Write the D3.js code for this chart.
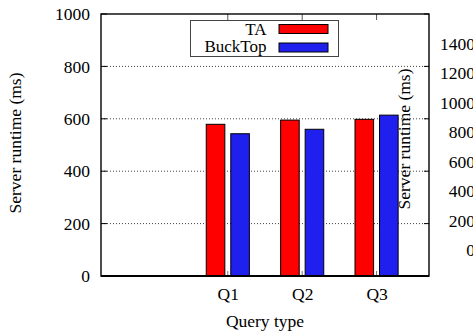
<!DOCTYPE html>
<html>
<head>
<meta charset="utf-8">
<script src="https://cdn.jsdelivr.net/npm/d3@7"></script>
<style>
  body { margin: 0; background: #fff; }
  text { font-family: "Liberation Serif", "Times New Roman", serif; fill: #000; }
</style>
</head>
<body>
<div id="chart"></div>
<script>
// data
var categories = ["Q1", "Q2", "Q3"];
var seriesNames = ["TA", "BuckTop"];
var taValues = [579, 595, 598];
var buckTopValues = [543, 560, 614];
var yTicks = [0, 200, 400, 600, 800, 1000];
var y2Ticks = [0, 200, 400, 600, 800, 1000, 1200, 1400];
var colors = ["#ff0000", "#2020ee"];

var W = 473, H = 336;
var margin = { top: 14, right: 44, bottom: 60, left: 101 },
    width = W - margin.left - margin.right,
    height = H - margin.top - margin.bottom;

var svg = d3.select("#chart")
    .append("svg")
    .attr("width", W)
    .attr("height", H);

var g = svg.append("g")
    .attr("transform", "translate(" + margin.left + "," + margin.top + ")");

// x: clusters at 1..3, empty slot at 0
var x = d3.scaleLinear()
    .domain([-0.705, 3.705])
    .range([0, width]);

var y = d3.scaleLinear()
    .domain([0, 1000])
    .range([height, 0]);

// second (right) scale, overlapping as in the original figure
var y2 = d3.scaleLinear()
    .domain([0, 1400])
    .range([250 - margin.top, 43.5 - margin.top]);

// grid lines
g.selectAll(".grid")
    .data(yTicks.filter(function (d) { return d > 0 && d < 1000; }))
    .enter()
    .append("line")
    .attr("x1", 0)
    .attr("x2", width)
    .attr("y1", function (d) { return y(d); })
    .attr("y2", function (d) { return y(d); })
    .attr("stroke", "#444")
    .attr("stroke-width", 1)
    .attr("stroke-dasharray", "1,2");

// bars
var barW = 0.25;
var offsets = [-0.29, 0.04];
var series = [taValues, buckTopValues];

series.forEach(function (vals, s) {
    g.selectAll(".bar" + s)
        .data(vals)
        .enter()
        .append("rect")
        .attr("x", function (d, i) { return x(i + 1 + offsets[s]); })
        .attr("width", x(barW) - x(0))
        .attr("y", function (d) { return y(d); })
        .attr("height", function (d) { return height - y(d); })
        .attr("fill", colors[s])
        .attr("stroke", "#000")
        .attr("stroke-width", 1);
});

// left axis labels
var yAxis = g.append("g")
    .call(d3.axisLeft(y).tickValues(yTicks).tickFormat(d3.format("d")).tickSize(0).tickPadding(11));
yAxis.select(".domain").remove();
yAxis.selectAll("text").style("font-size", "17.5px");

// inward tick marks on left and right
g.selectAll(".ltick")
    .data(yTicks)
    .enter()
    .append("line")
    .attr("x1", 0).attr("x2", 6)
    .attr("y1", function (d) { return y(d); })
    .attr("y2", function (d) { return y(d); })
    .attr("stroke", "#000");
g.selectAll(".rtick")
    .data(yTicks)
    .enter()
    .append("line")
    .attr("x1", width - 5).attr("x2", width)
    .attr("y1", function (d) { return y(d); })
    .attr("y2", function (d) { return y(d); })
    .attr("stroke", "#000");

// x axis labels
var xAxis = g.append("g")
    .attr("transform", "translate(0," + height + ")")
    .call(d3.axisBottom(x)
        .tickValues([1, 2, 3])
        .tickFormat(function (d) { return categories[d - 1]; })
        .tickSize(0)
        .tickPadding(12));
xAxis.select(".domain").remove();
xAxis.selectAll("text").style("font-size", "17.5px");

// x tick marks: top and bottom, inward
[1, 2, 3].forEach(function (d) {
    g.append("line")
        .attr("x1", x(d)).attr("x2", x(d))
        .attr("y1", 0).attr("y2", 6)
        .attr("stroke", "#555");
    g.append("line")
        .attr("x1", x(d)).attr("x2", x(d))
        .attr("y1", height).attr("y2", height - 5)
        .attr("stroke", "#777");
});

// frame
g.append("rect")
    .attr("x", 0).attr("y", 0)
    .attr("width", width).attr("height", height)
    .attr("fill", "none")
    .attr("stroke", "#000")
    .attr("stroke-width", 1.4);
g.append("line")
    .attr("x1", 0).attr("x2", width)
    .attr("y1", height).attr("y2", height)
    .attr("stroke", "#000")
    .attr("stroke-width", 2);

// right axis labels (no line), clipped by the page edge like the original
var y2Axis = g.append("g")
    .attr("transform", "translate(" + (475 - margin.left) + ",0)")
    .call(d3.axisLeft(y2).tickValues(y2Ticks).tickFormat(d3.format("d")).tickSize(0).tickPadding(0));
y2Axis.select(".domain").remove();
y2Axis.selectAll("text").style("font-size", "17.5px");

// axis titles
svg.append("text")
    .attr("transform", "translate(21,143) rotate(-90)")
    .attr("text-anchor", "middle")
    .style("font-size", "17.5px")
    .text("Server runtime (ms)");
svg.append("text")
    .attr("transform", "translate(410,139) rotate(-90)")
    .attr("text-anchor", "middle")
    .style("font-size", "17.5px")
    .text("Server runtime (ms)");
svg.append("text")
    .attr("x", margin.left + width / 2)
    .attr("y", 327)
    .attr("text-anchor", "middle")
    .style("font-size", "17.5px")
    .text("Query type");

// legend
var legend = svg.append("g");
legend.append("rect")
    .attr("x", 190.5).attr("y", 20.5)
    .attr("width", 148).attr("height", 36)
    .attr("fill", "#fff")
    .attr("stroke", "#444")
    .attr("stroke-width", 1);
seriesNames.forEach(function (name, i) {
    legend.append("text")
        .attr("x", 266.5)
        .attr("y", 35 + i * 17)
        .attr("text-anchor", "end")
        .style("font-size", "17px")
        .text(name);
    legend.append("rect")
        .attr("x", 279).attr("y", 24.5 + i * 18.5)
        .attr("width", 49).attr("height", 9)
        .attr("fill", colors[i])
        .attr("stroke", "#000")
        .attr("stroke-width", 1);
});
</script>
</body>
</html>
